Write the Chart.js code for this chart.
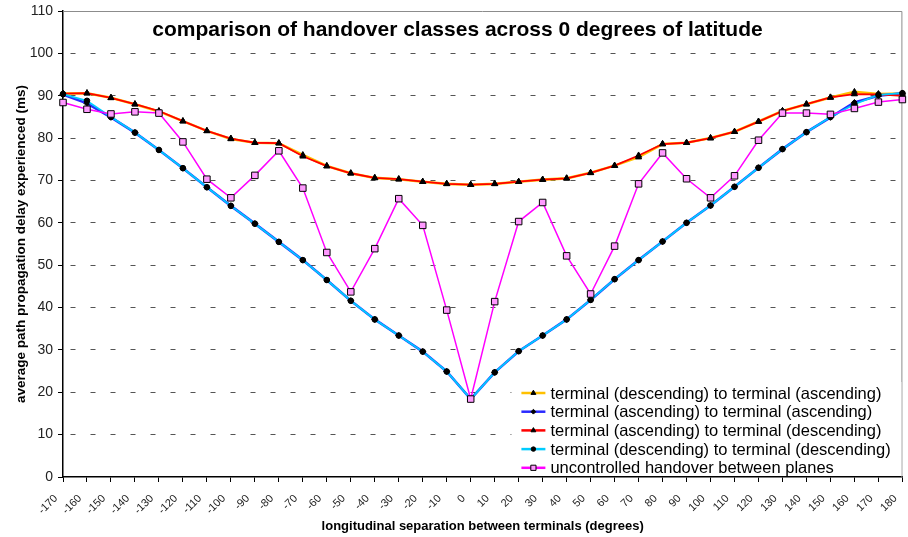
<!DOCTYPE html>
<html>
<head>
<meta charset="utf-8">
<script src="https://cdn.jsdelivr.net/npm/chart.js@4.4.1/dist/chart.umd.min.js"></script>
<style>
  html, body { margin: 0; padding: 0; background: #fff; }
  #wrap { width: 908px; height: 537px; }
</style>
</head>
<body>
<div id="wrap"><canvas id="handoverChart"></canvas></div>
<script>
// Data
const separations = ['-170', '-160', '-150', '-140', '-130', '-120', '-110', '-100', '-90', '-80',
    '-70', '-60', '-50', '-40', '-30', '-20', '-10', '0', '10', '20', '30', '40', '50', '60',
    '70', '80', '90', '100', '110', '120', '130', '140', '150', '160', '170', '180'];

const descToAsc = [90.5, 90.6, 89.5, 88.0, 86.3, 84.0, 81.7, 79.8, 78.9, 78.8,
    76.0, 73.4, 71.7, 70.6, 70.3, 69.7, 69.2, 69.0, 69.2, 69.7, 70.2, 70.5, 71.8, 73.5,
    75.5, 78.6, 78.9, 80.0, 81.5, 83.9, 86.4, 88.0, 89.6, 90.9, 90.4, 90.5];
const ascToAsc = [90.3, 88.2, 84.9, 81.3, 77.2, 72.9, 68.4, 64.0, 59.8, 55.5,
    51.2, 46.5, 41.6, 37.2, 33.4, 29.6, 24.9, 18.4, 24.7, 29.7, 33.4, 37.2, 41.8, 46.7,
    51.2, 55.6, 60.0, 64.1, 68.5, 73.0, 77.4, 81.4, 84.9, 88.4, 90.0, 90.6];
const ascToDesc = [90.5, 90.6, 89.5, 88.0, 86.4, 84.0, 81.7, 79.9, 78.9, 78.8,
    75.7, 73.4, 71.7, 70.6, 70.3, 69.7, 69.2, 69.0, 69.2, 69.7, 70.2, 70.5, 71.8, 73.5,
    75.9, 78.6, 78.9, 80.0, 81.5, 83.9, 86.4, 88.0, 89.6, 90.4, 90.3, 90.0];
const descToDesc = [90.4, 88.8, 85.0, 81.3, 77.2, 72.9, 68.4, 64.0, 59.8, 55.5,
    51.2, 46.5, 41.6, 37.2, 33.4, 29.6, 24.9, 18.4, 24.7, 29.7, 33.4, 37.2, 41.8, 46.7,
    51.2, 55.6, 60.0, 64.1, 68.5, 73.0, 77.4, 81.4, 85.0, 88.0, 90.2, 90.6];
const uncontrolled = [88.4, 86.8, 85.7, 86.2, 85.9, 79.1, 70.3, 65.9, 71.2, 77.0,
    68.2, 53.0, 43.7, 53.9, 65.7, 59.4, 39.4, 18.4, 41.4, 60.3, 64.8, 52.2, 43.2, 54.5,
    69.2, 76.5, 70.4, 65.9, 71.1, 79.5, 85.9, 85.9, 85.6, 87.0, 88.5, 89.1];

const FONT = 'Arial, "Liberation Sans", sans-serif';

// Frame on the top and right of the plot area
const plotFrame = {
    id: 'plotFrame',
    beforeDatasetsDraw(chart) {
        const { ctx, chartArea: a } = chart;
        ctx.save();
        ctx.strokeStyle = '#8c8c8c';
        ctx.lineWidth = 1;
        ctx.beginPath();
        ctx.moveTo(a.left, a.top + 0.5);
        ctx.lineTo(a.right - 0.5, a.top + 0.5);
        ctx.lineTo(a.right - 0.5, a.bottom);
        ctx.stroke();
        ctx.restore();
    }
};

// Title and legend drawn inside the plot area
const insideText = {
    id: 'insideText',
    afterDraw(chart) {
        const { ctx, chartArea: a } = chart;
        ctx.save();
        ctx.font = `bold 21px ${FONT}`;
        ctx.fillStyle = '#000';
        ctx.textAlign = 'center';
        ctx.textBaseline = 'alphabetic';
        ctx.fillText('comparison of handover classes across 0 degrees of latitude', 457.5, 36);

        const left = a.right - 381;
        const top = a.bottom - 95;
        ctx.fillStyle = '#fff';
        ctx.fillRect(left - 10, top, a.right - left + 9, a.bottom - top - 1);

        ctx.font = `16.5px ${FONT}`;
        ctx.textAlign = 'left';
        ctx.textBaseline = 'middle';
        chart.data.datasets.forEach((ds, i) => {
            const y = top + 11 + i * 18.7;
            ctx.strokeStyle = ds.borderColor;
            ctx.lineWidth = 2.5;
            ctx.beginPath();
            ctx.moveTo(left, y);
            ctx.lineTo(left + 24, y);
            ctx.stroke();
            ctx.fillStyle = ds.pointBackgroundColor;
            ctx.strokeStyle = ds.pointBorderColor;
            ctx.lineWidth = 1;
            Chart.helpers.drawPoint(ctx, {
                pointStyle: ds.pointStyle,
                radius: ds.pointRadius * 0.8,
                rotation: 0,
                borderWidth: 1
            }, left + 12, y);
            ctx.fillStyle = '#000';
            ctx.fillText(ds.label, left + 29, y + 1);
        });
        ctx.restore();
    }
};

function series(label, data, color, style, radius, width, order, fill) {
    return {
        label: label,
        data: data,
        order: order,
        borderColor: color,
        backgroundColor: color,
        borderWidth: width,
        pointStyle: style,
        pointRadius: radius,
        pointHoverRadius: radius,
        pointBackgroundColor: fill || '#000',
        pointBorderColor: '#000',
        pointBorderWidth: 1,
        tension: 0,
        fill: false
    };
}

const ctx = document.getElementById('handoverChart').getContext('2d');

new Chart(ctx, {
    type: 'line',
    data: {
        labels: separations,
        datasets: [
            series('terminal (descending) to terminal (ascending)', descToAsc, '#ffc000', 'triangle', 3.5, 2.6, 5),
            series('terminal (ascending) to terminal (ascending)', ascToAsc, '#2a2aff', 'rectRot', 3, 2.6, 4),
            series('terminal (ascending) to terminal (descending)', ascToDesc, '#ff0000', 'triangle', 3.5, 1.8, 3),
            series('terminal (descending) to terminal (descending)', descToDesc, '#00ccff', 'circle', 2.8, 1.8, 2),
            series('uncontrolled handover between planes', uncontrolled, '#ff00ff', 'rect', 4.6, 1.5, 1, '#ff99ff')
        ]
    },
    options: {
        responsive: true,
        maintainAspectRatio: false,
        animation: false,
        events: [],
        layout: { padding: { top: 11, right: 4, left: 0, bottom: 0 } },
        plugins: {
            legend: { display: false },
            tooltip: { enabled: false },
            title: { display: false }
        },
        scales: {
            x: {
                afterFit: (s) => { s.height = 60; s.paddingLeft = 0; s.paddingRight = 0; },
                grid: {
                    drawOnChartArea: false,
                    drawTicks: true,
                    tickLength: 5,
                    tickColor: '#000',
                    tickWidth: 1
                },
                border: { color: '#000', width: 1.5 },
                ticks: {
                    autoSkip: false,
                    minRotation: 45,
                    maxRotation: 45,
                    padding: 10,
                    labelOffset: -7,
                    color: '#222',
                    font: { family: FONT, size: 11 }
                },
                title: {
                    display: true,
                    text: 'longitudinal separation between terminals (degrees)',
                    color: '#000',
                    font: { family: FONT, size: 13, weight: 'bold' },
                    padding: { top: 0, bottom: 3 }
                }
            },
            y: {
                min: 0,
                max: 110,
                afterFit: (s) => { s.width = 63; s.paddingTop = 0; s.paddingBottom = 0; },
                grid: {
                    color: (c) => (c.tick && (c.tick.value === 0 || c.tick.value === 110)) ? 'rgba(0,0,0,0)' : '#555',
                    lineWidth: 1,
                    tickLength: 5,
                    tickColor: '#000',
                    tickWidth: 1
                },
                border: { color: '#000', width: 1.5, dash: [5, 15], dashOffset: -7 },
                ticks: {
                    stepSize: 10,
                    padding: 5,
                    color: '#222',
                    font: { family: FONT, size: 14 }
                },
                title: {
                    display: true,
                    text: 'average path propagation delay experienced (ms)',
                    color: '#000',
                    font: { family: FONT, size: 13.5, weight: 'bold' },
                    padding: { top: 13, bottom: 0 }
                }
            }
        }
    },
    plugins: [plotFrame, insideText]
});
</script>
</body>
</html>
